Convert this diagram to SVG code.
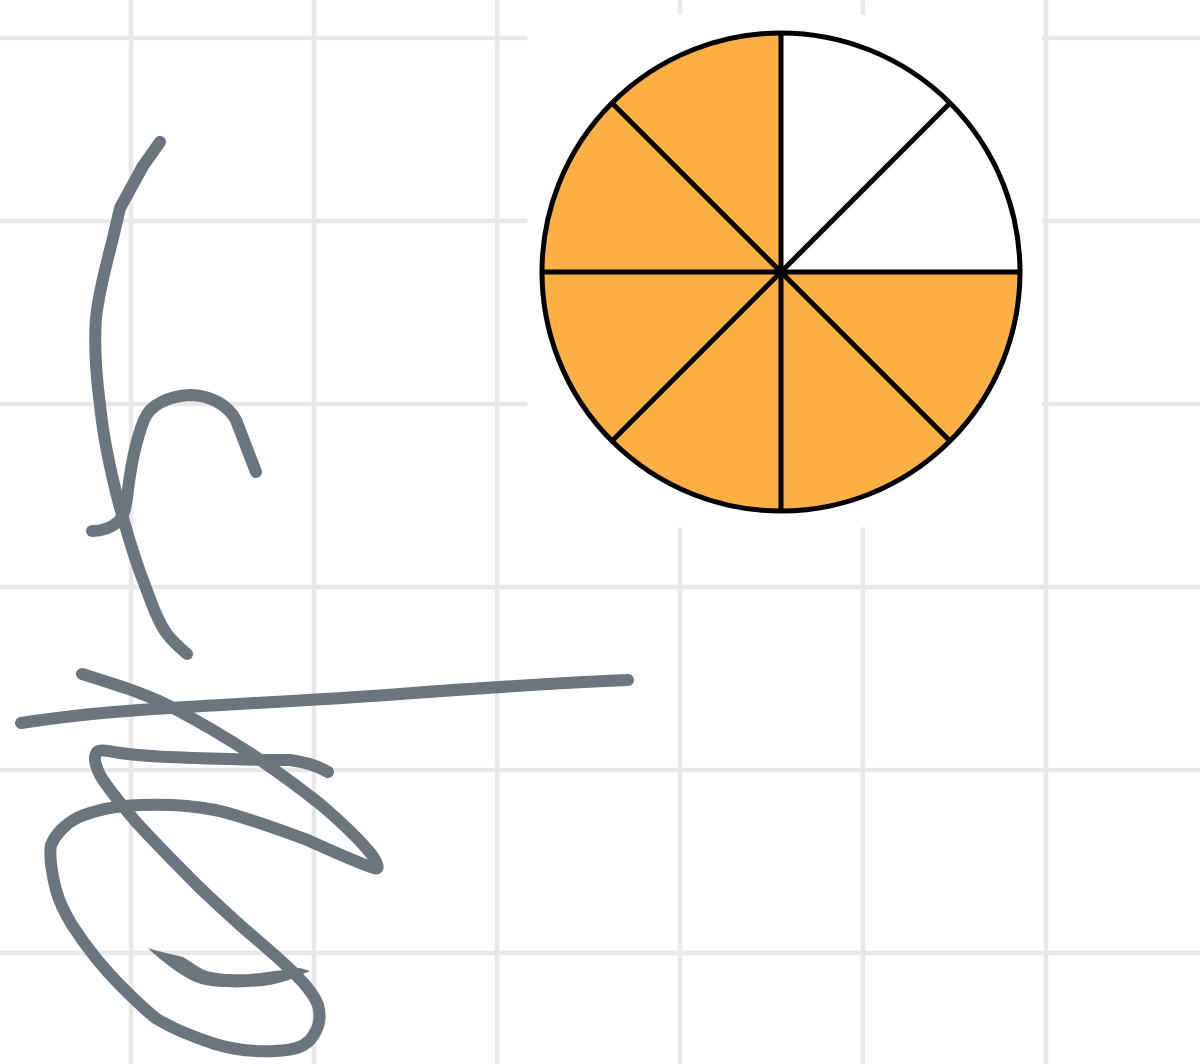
<svg xmlns="http://www.w3.org/2000/svg" width="1200" height="1064" viewBox="0 0 1200 1064">
<style>
.grid line{stroke:#e8e8e8;stroke-width:4.5}
.ink{fill:none;stroke:#6c757d;stroke-width:12;stroke-linecap:round;stroke-linejoin:round}
.edge{stroke:#000;stroke-width:5;fill:none}
</style>
<rect width="1200" height="1064" fill="#fff"/>
<g class="grid">
<line x1="131" y1="0" x2="131" y2="1064"/>
<line x1="314" y1="0" x2="314" y2="1064"/>
<line x1="497" y1="0" x2="497" y2="1064"/>
<line x1="680" y1="0" x2="680" y2="1064"/>
<line x1="863" y1="0" x2="863" y2="1064"/>
<line x1="1046" y1="0" x2="1046" y2="1064"/>
<line x1="0" y1="38" x2="1200" y2="38"/>
<line x1="0" y1="221" x2="1200" y2="221"/>
<line x1="0" y1="404" x2="1200" y2="404"/>
<line x1="0" y1="587" x2="1200" y2="587"/>
<line x1="0" y1="770" x2="1200" y2="770"/>
<line x1="0" y1="953" x2="1200" y2="953"/>
</g>
<rect x="527.5" y="15" width="514.5" height="512.5" fill="#fff"/>
<g id="pie">
<circle cx="781" cy="272" r="239" fill="#fcaf43"/>
<path d="M781,272 L781,33 A239,239 0 0,1 1020,272 Z" fill="#fff"/>
<line class="edge" x1="781" y1="33" x2="781" y2="511"/>
<line class="edge" x1="542" y1="272" x2="1020" y2="272"/>
<line class="edge" x1="612" y1="103" x2="950" y2="441"/>
<line class="edge" x1="950" y1="103" x2="612" y2="441"/>
<circle cx="781" cy="272" r="239" class="edge"/>
</g>
<g id="scribbles">
<path class="ink" d="M160,142 L143,166 L120,208 L113,238 C106,266 99,290 96,318 C94,345 96,375 100,405 C103,435 109,465 118,500 C124,522 133,555 143,580 C151,602 158,622 167,634 C173,642 180,648 187,654"/>
<path class="ink" d="M92,531 C102,531 112,527 118,522 C125,515 126,505 128,490 C131,465 136,440 144,420 C150,404 170,396 190,395 C210,395 228,405 236,420 L256,472"/>
<path class="ink" d="M21,723 C60,717 100,712 170,708 C250,703 320,700 400,694 C480,688 560,683 628,680"/>
<path class="ink" d="M82,674 C120,686 150,695 173,708 C200,722 230,740 253,755 C275,770 300,788 320,804 C340,821 360,840 372,855 C378,864 380,870 374,868 C360,864 330,850 305,839 C280,830 240,815 215,810 C195,806 165,804 140,805 C110,806 90,812 77,818 C65,824 55,835 51,845 C49,855 52,875 56,890 C60,905 66,915 72,925 C85,945 100,965 120,985 C135,1000 147,1012 157,1019 C170,1027 190,1036 215,1044 C235,1050 255,1052 275,1051 C295,1050 303,1047 310,1040 C318,1030 322,1020 318,1005 C314,994 305,984 296,975 C285,964 275,955 255,938 C235,921 215,902 200,888 C180,868 160,848 137,823 C120,803 108,789 100,775 C95,765 93,757 97,752 C100,749 108,751 120,753 C140,756 180,758 230,759 C260,760 280,760 290,760 C305,762 318,766 328,772"/>
<path fill="#6c757d" d="M148,948 C160,952 175,955 183,957 C192,962 198,968 207,971 C220,975 245,975 260,973 C275,971 290,969 300,968 L310,971 L298,976 C290,980 278,984 262,986 C245,988 220,988 205,985 C195,983 185,977 176,971 C165,963 155,955 148,948 Z"/>
</g>
</svg>
